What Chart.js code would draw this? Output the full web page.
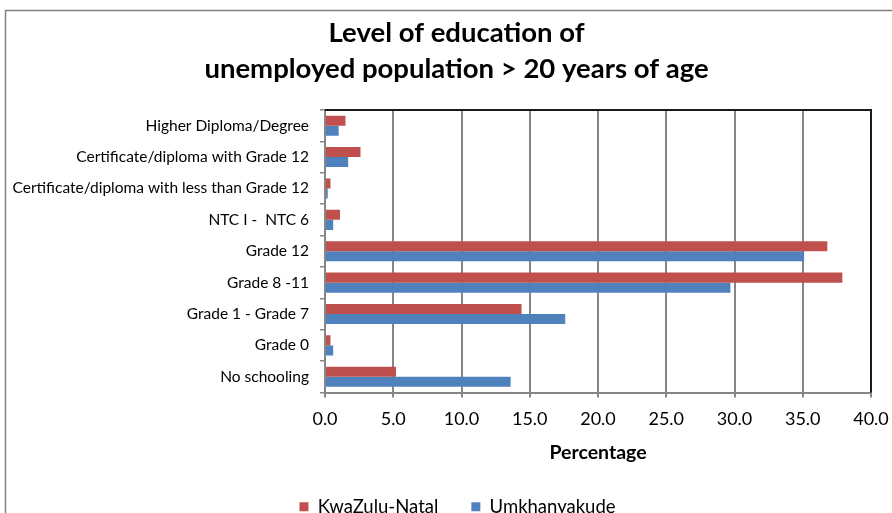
<!DOCTYPE html>
<html>
<head>
<meta charset="utf-8">
<script src="https://cdn.jsdelivr.net/npm/chart.js@4.4.0/dist/chart.umd.min.js"></script>
<style>
  html, body { margin: 0; padding: 0; background: #fff; overflow: hidden; }
  #wrap { width: 892px; height: 513px; overflow: hidden; }
</style>
</head>
<body>
<div id="wrap"><canvas id="c" width="892" height="526"></canvas></div>
<script>
const categories = [
  "Higher Diploma/Degree",
  "Certificate/diploma with Grade 12",
  "Certificate/diploma with less than Grade 12",
  "NTC I -  NTC 6",
  "Grade 12",
  "Grade 8 -11",
  "Grade 1 - Grade 7",
  "Grade 0",
  "No schooling"
];
const kwazuluNatal = [1.5, 2.6, 0.4, 1.1, 36.8, 37.9, 14.4, 0.4, 5.2];
const umkhanyakude = [1.0, 1.7, 0.2, 0.6, 35.1, 29.7, 17.6, 0.6, 13.6];
const xTicks = [0, 5, 10, 15, 20, 25, 30, 35, 40];
const titleLines = ["Level of education of", "unemployed population > 20 years of age"];

const FONT = "Lato, 'Open Sans', sans-serif";

const framePlugin = {
  id: 'frame',
  afterLayout(chart) {
    // the original chart frame extends beyond the right edge: centre title & legend on it
    const shiftTo = (box, centre) => {
      if (box) { const dx = centre - (box.left + box.right) / 2; box.left += dx; box.right += dx; }
    };
    shiftTo(chart.titleBlock, 456.5);
    shiftTo(chart.legend, 457.5);
  },
  beforeDraw(chart) {
    const ctx = chart.ctx;
    ctx.save();
    ctx.strokeStyle = '#7f7f7f';
    ctx.lineWidth = 1.5;
    ctx.beginPath();
    ctx.moveTo(5.5, chart.height + 5);
    ctx.lineTo(5.5, 10.5);
    ctx.lineTo(chart.width + 5, 10.5);
    ctx.stroke();
    ctx.restore();
  },
  afterDatasetsDraw(chart) {
    const a = chart.chartArea;
    const ctx = chart.ctx;
    ctx.save();
    ctx.strokeStyle = '#1a1a1a';
    ctx.lineWidth = 2;
    ctx.beginPath();
    ctx.moveTo(a.left, a.top);
    ctx.lineTo(a.right, a.top);
    ctx.lineTo(a.right, a.bottom);
    ctx.stroke();
    ctx.restore();
  }
};

Chart.defaults.color = '#000';
Chart.defaults.font.family = FONT;

new Chart(document.getElementById('c'), {
  type: 'bar',
  data: {
    labels: categories,
    datasets: [
      { label: 'KwaZulu-Natal', data: kwazuluNatal, backgroundColor: '#C0504D', borderWidth: 0 },
      { label: 'Umkhanyakude', data: umkhanyakude, backgroundColor: '#4F81BD', borderWidth: 0 }
    ]
  },
  options: {
    indexAxis: 'y',
    responsive: false,
    animation: false,
    layout: { padding: { left: 6, right: 21, top: 0, bottom: 0 } },
    datasets: { bar: { categoryPercentage: 0.64, barPercentage: 1.0 } },
    scales: {
      x: {
        min: 0, max: 40,
        afterBuildTicks(scale) { scale.ticks = xTicks.map(v => ({ value: v })); },
        afterFit(scale) { scale.height = 72; scale.paddingRight = 0; scale.paddingLeft = 0; },
        ticks: {
          callback: v => Number(v).toFixed(1),
          font: { size: 18, family: FONT },
          color: '#000',
          padding: 11,
          maxRotation: 0
        },
        grid: { color: '#868686', lineWidth: 2, drawTicks: true, tickLength: 5, tickColor: '#868686' },
        border: { color: '#868686', width: 2 },
        title: {
          display: true, text: 'Percentage',
          font: { size: 19.5, weight: 'bold', family: FONT },
          color: '#000',
          padding: { top: 4, bottom: 0 }
        }
      },
      y: {
        afterFit(scale) { scale.width = 319; },
        ticks: { font: { size: 15.5, family: FONT }, color: '#000', padding: 11 },
        grid: { offset: true, drawOnChartArea: false, drawTicks: true, tickLength: 5, color: '#868686', lineWidth: 1.5 },
        border: { color: '#868686', width: 2 }
      }
    },
    plugins: {
      title: {
        display: true,
        text: titleLines,
        font: { size: 27.5, weight: 'bold', family: FONT, lineHeight: 1.309 },
        color: '#000',
        padding: { top: 15, bottom: 23 }
      },
      legend: {
        position: 'bottom',
        labels: { boxWidth: 9, boxHeight: 9, padding: 33, font: { size: 18.5, family: FONT }, color: '#000' }
      },
      tooltip: { enabled: false }
    }
  },
  plugins: [framePlugin]
});
</script>
</body>
</html>
